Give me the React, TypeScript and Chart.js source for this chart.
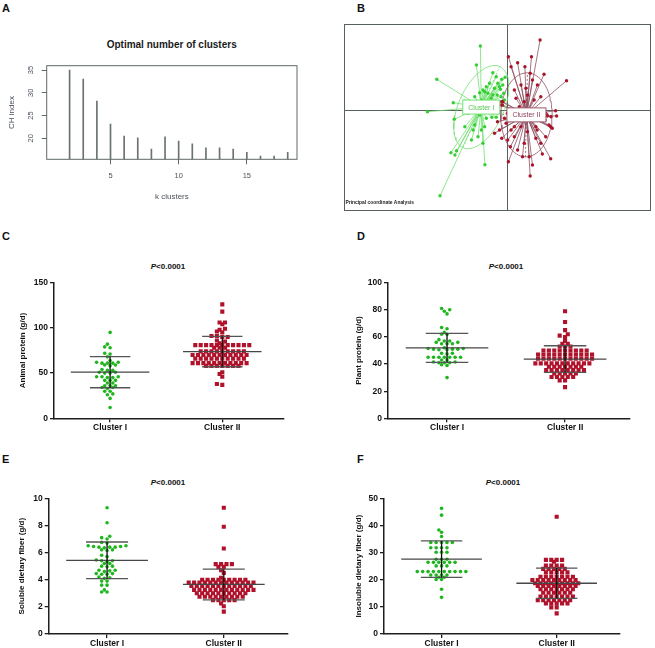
import React, { useEffect, useRef } from 'react';
import { Chart, registerables } from 'chart.js';
Chart.register(...registerables);

const FONT = '"Liberation Sans", Arial, Helvetica, sans-serif';

// ---------------- Panel A : CH index ----------------
const K_CLUSTERS = [2, 3, 4, 5, 6, 7, 8, 9, 10, 11, 12, 13, 14, 15, 16, 17, 18];
const CH_INDEX = [35.0, 33.0, 28.2, 23.1, 20.5, 20.1, 17.6, 20.3, 19.4, 18.8, 17.9, 17.9, 17.6, 16.9, 16.1, 16.1, 16.9];
const A_X_TICKS = [5, 10, 15];
const A_Y_TICKS = [20, 25, 30, 35];
const A_TITLE = 'Optimal number of clusters';
const A_X_TITLE = 'k clusters';
const A_Y_TITLE = 'CH index';

// ---------------- Panel B : PCoA ----------------
const PCOA_I_X = [-0.273, -0.713, -0.807, -0.680, -0.570, -0.530, -0.513, -0.227, -0.547, -0.537, -0.157, -0.113, -0.177, -0.313, -0.147, -0.057, -0.023, -0.097, -0.130, -0.070, -0.037, -0.247, -0.280, -0.230, -0.197, -0.080, -0.280, -0.330, -0.230, -0.263, -0.347, -0.297, -0.247, -0.363, -0.397, -0.213, -0.330, -0.163, -0.297, -0.030, -0.430, -0.263, -0.113, -0.080, -0.047, -0.180, -0.147, -0.103, -0.063, -0.213];
const PCOA_I_Y = [0.640, 0.307, -0.017, -0.857, -0.427, -0.450, -0.407, -0.547, 0.073, -0.093, -0.073, -0.073, -0.017, 0.450, 0.373, 0.307, 0.327, 0.267, 0.217, 0.207, 0.167, 0.200, 0.173, 0.183, 0.167, 0.083, -0.050, -0.150, -0.167, -0.200, -0.200, -0.267, -0.333, -0.300, -0.033, -0.083, 0.133, 0.117, 0.033, 0.100, -0.167, 0.100, 0.333, 0.233, 0.250, 0.267, 0.150, 0.150, 0.133, 0.233];
const PCOA_II_X = [0.330, 0.243, 0.103, 0.010, 0.037, 0.177, 0.230, 0.370, 0.597, 0.303, 0.137, 0.070, 0.203, 0.270, -0.047, 0.487, 0.497, 0.403, 0.437, 0.453, 0.337, 0.070, 0.037, -0.130, -0.057, 0.003, 0.070, 0.030, 0.103, 0.170, 0.220, 0.010, 0.253, 0.230, 0.337, 0.353, 0.437, 0.387, 0.137, 0.120, 0.170, 0.237, 0.070, 0.287, 0.203, 0.137, -0.013, 0.087, 0.187, 0.253, 0.337, -0.080, 0.153, 0.287, 0.387, 0.103, 0.020, 0.237, -0.050, 0.000, 0.350, 0.400, -0.080, 0.300, 0.420, -0.030, 0.440, -0.100, 0.380, -0.060];
const PCOA_II_Y = [0.700, 0.533, 0.473, 0.533, 0.433, 0.433, 0.367, 0.357, 0.293, 0.250, 0.250, 0.200, 0.150, 0.100, 0.083, -0.007, -0.060, -0.060, -0.167, -0.183, -0.067, -0.167, -0.200, -0.233, -0.283, -0.300, -0.267, -0.367, -0.400, -0.333, -0.467, -0.517, -0.550, -0.660, -0.333, -0.440, -0.487, -0.267, -0.067, 0.033, 0.083, 0.000, 0.000, -0.167, -0.217, -0.167, -0.133, 0.117, 0.217, 0.300, 0.133, -0.200, -0.467, -0.283, -0.033, -0.100, -0.067, -0.100, 0.050, -0.033, -0.017, -0.050, 0.050, -0.200, -0.150, -0.083, -0.067, -0.117, -0.100, 0.083];
const PCOA_SUBTITLE = 'Principal coordinate Analysis';

// ---------------- Panels C-F : dot plots ----------------
const CATEGORIES = ['Cluster I', 'Cluster II'];
const P_LABEL = '<0.0001';

const ANIMAL_I = [95, 82, 79, 78, 72, 71, 68, 64, 62, 62, 61, 61, 61, 59, 59, 58, 54, 53, 53, 51, 51, 50, 50, 46, 46, 46, 45, 45, 42, 42, 42, 39, 39, 36, 36, 36, 34, 34, 33, 30, 30, 27, 26, 22, 12];
const ANIMAL_II = [126, 118, 106, 106, 104, 99, 98, 96, 95, 91, 91, 90, 90, 86, 85, 83, 81, 81, 81, 81, 81, 81, 81, 81, 81, 81, 81, 78, 78, 78, 74, 74, 74, 74, 74, 74, 74, 74, 74, 70, 70, 70, 70, 70, 70, 70, 70, 70, 70, 70, 66, 66, 66, 66, 66, 66, 66, 66, 66, 66, 61, 61, 61, 61, 61, 61, 61, 61, 61, 61, 61, 58, 58, 58, 58, 58, 58, 58, 51, 49, 46, 38, 37];
const ANIMAL_MEAN = [51.0, 73.8];
const ANIMAL_SD = [17.2, 16.8];

const PLANT_I = [81, 80, 79, 77, 67, 66, 63.5, 62, 62, 58, 57, 57, 56, 56, 55, 55, 55, 52, 51.5, 51.5, 51, 51, 51, 50.5, 50.5, 48, 48, 47.5, 45, 45, 45, 45, 45, 45, 45, 43, 43, 41.5, 41.5, 41, 41, 41, 39.5, 39, 30];
const PLANT_II = [79, 71, 65, 62, 61, 60, 57, 55, 55, 53, 53, 53, 50, 50, 50, 50, 50, 50, 50, 50, 50, 47, 47, 47, 47, 47, 47, 47, 47, 47, 47, 47, 44, 44, 44, 44, 44, 44, 44, 44, 44, 44, 44, 40.5, 40.5, 40.5, 40.5, 40.5, 40.5, 40.5, 40.5, 40.5, 40.5, 40.5, 38, 38, 38, 38, 38, 38, 38, 35.5, 35.5, 35.5, 35.5, 35.5, 35.5, 35.5, 35.5, 33, 33, 33, 33, 33, 30.5, 30.5, 30.5, 30.5, 30.5, 28, 28, 23];
const PLANT_MEAN = [52.0, 43.7];
const PLANT_SD = [10.7, 9.8];

const SOLUBLE_I = [9.3, 8.2, 7.2, 7.1, 7.0, 6.75, 6.7, 6.5, 6.5, 6.45, 6.45, 6.4, 6.4, 6.4, 6.35, 6.2, 6.2, 6.15, 5.8, 5.7, 5.45, 5.4, 5.4, 5.35, 5.2, 5.2, 5.0, 5.0, 4.95, 4.7, 4.7, 4.65, 4.6, 4.45, 4.45, 4.4, 4.4, 4.2, 4.15, 4.1, 3.9, 3.9, 3.6, 3.6, 3.25, 3.1, 3.1];
const SOLUBLE_II = [9.3, 7.9, 6.3, 5.15, 5.15, 5.15, 5.15, 4.95, 4.95, 4.7, 4.5, 4.15, 4.0, 4.0, 4.0, 4.0, 4.0, 4.0, 4.0, 4.0, 4.0, 3.8, 3.8, 3.8, 3.8, 3.8, 3.8, 3.8, 3.8, 3.8, 3.8, 3.8, 3.8, 3.8, 3.55, 3.55, 3.55, 3.55, 3.55, 3.55, 3.55, 3.55, 3.55, 3.55, 3.55, 3.55, 3.25, 3.25, 3.25, 3.25, 3.25, 3.25, 3.25, 3.25, 3.25, 3.25, 3.25, 3.25, 3.0, 3.0, 3.0, 3.0, 3.0, 3.0, 3.0, 3.0, 3.0, 3.0, 2.75, 2.75, 2.75, 2.75, 2.75, 2.75, 2.75, 2.75, 2.75, 2.5, 2.5, 2.5, 2.5, 2.5, 2.25, 2.05, 1.65];
const SOLUBLE_MEAN = [5.43, 3.65];
const SOLUBLE_SD = [1.35, 1.13];

const INSOLUBLE_I = [46.3, 43.8, 38.3, 37.5, 35.9, 33.7, 33.7, 33.7, 33.7, 33.7, 31.8, 31.8, 31.8, 31.8, 30.1, 30.1, 30.1, 27.5, 27.5, 27.5, 26.4, 26.4, 26.4, 26.4, 26.4, 26.4, 25.1, 25.1, 25.1, 23.0, 23.0, 23.0, 23.0, 23.0, 23.0, 23.0, 23.0, 23.0, 23.0, 21.7, 21.7, 21.7, 21.7, 20.9, 20.9, 20.1, 20.1, 16.5, 13.5];
const INSOLUBLE_II = [43.2, 27.3, 27.3, 27.3, 27.3, 26.6, 25.2, 25.2, 25.2, 25.2, 24.0, 24.0, 24.0, 24.0, 24.0, 22.7, 22.7, 22.7, 22.7, 22.7, 21.1, 21.1, 21.1, 21.1, 21.1, 21.1, 21.1, 19.9, 19.9, 19.9, 19.9, 19.9, 19.9, 19.9, 19.9, 19.9, 18.7, 18.7, 18.7, 18.7, 18.7, 18.7, 18.7, 18.7, 18.7, 17.7, 17.7, 17.7, 17.7, 17.7, 17.7, 17.7, 17.7, 16.5, 16.5, 16.5, 16.5, 16.5, 16.5, 16.5, 15.2, 15.2, 15.2, 15.2, 15.2, 15.2, 13.8, 13.8, 13.8, 13.8, 13.8, 13.8, 13.8, 12.5, 12.5, 12.5, 12.5, 12.5, 12.5, 12.5, 11.3, 11.3, 11.3, 11.3, 11.3, 9.8, 9.8, 7.6];
const INSOLUBLE_MEAN = [27.6, 18.7];
const INSOLUBLE_SD = [6.7, 5.6];

// ---------------- helpers ----------------
type Box = { left: number; top: number; width: number; height: number };
type Area = { left: number; right: number; top: number; bottom: number };

const avg = (a: number[]) => a.reduce((s, v) => s + v, 0) / a.length;

// GraphPad-like scatter layout: same row -> full pitch, neighbouring rows -> half pitch offset
function swarm(values: number[], center: number, pxPerX: number, pxPerY: number, pitch: number, rowTol: number, nearRow: number) {
  const order = values.map((_, i) => i).sort((a, b) => values[a] - values[b]);
  const placed: { x: number; y: number }[] = [];
  const out: { x: number; y: number }[] = new Array(values.length);
  const need = (dy: number) => (Math.abs(dy) < rowTol ? pitch : pitch / 2);
  for (const i of order) {
    const yp = values[i] * pxPerY;
    const near = placed.filter((p) => Math.abs(p.y - yp) < nearRow);
    const cands = [0];
    for (const p of near) {
      const n = need(p.y - yp);
      cands.push(p.x + n, p.x - n);
    }
    cands.sort((a, b) => Math.abs(a) - Math.abs(b) || a - b);
    let xp = 0;
    for (const c of cands) {
      if (near.every((p) => Math.abs(p.x - c) >= need(p.y - yp) - 1e-6)) {
        xp = c;
        break;
      }
    }
    placed.push({ x: xp, y: yp });
    out[i] = { x: center + xp / pxPerX, y: values[i] };
  }
  return out;
}

function ellipse(xs: number[], ys: number[], k: number) {
  const mx = avg(xs), my = avg(ys);
  let sxx = 0, syy = 0, sxy = 0;
  xs.forEach((x, i) => {
    const dx = x - mx, dy = ys[i] - my;
    sxx += dx * dx; syy += dy * dy; sxy += dx * dy;
  });
  sxx /= xs.length; syy /= xs.length; sxy /= xs.length;
  const tr = (sxx + syy) / 2;
  const dd = Math.sqrt(((sxx - syy) / 2) ** 2 + sxy ** 2);
  const a = k * Math.sqrt(tr + dd), b = k * Math.sqrt(Math.max(tr - dd, 0));
  const th = 0.5 * Math.atan2(2 * sxy, sxx - syy);
  const c = Math.cos(th), s = Math.sin(th);
  const curve = [] as { x: number; y: number }[];
  for (let t = 0; t <= 72; t++) {
    const ang = (t / 72) * Math.PI * 2;
    const ex = a * Math.cos(ang), ey = b * Math.sin(ang);
    curve.push({ x: mx + ex * c - ey * s, y: my + ex * s + ey * c });
  }
  const axes = [
    { x: mx - a * c, y: my - a * s }, { x: mx + a * c, y: my + a * s }, { x: NaN, y: NaN },
    { x: mx + b * s, y: my - b * c }, { x: mx - b * s, y: my + b * c },
  ];
  return { curve, axes, mx, my };
}

function ChartBox({ box, make }: { box: Box; make: () => any }) {
  const ref = useRef<HTMLCanvasElement>(null);
  useEffect(() => {
    const chart = new Chart(ref.current as HTMLCanvasElement, make());
    return () => chart.destroy();
  }, []);
  return (
    <canvas
      ref={ref}
      width={box.width}
      height={box.height}
      style={{ position: 'absolute', left: box.left, top: box.top, width: box.width, height: box.height }}
    />
  );
}

// ---------------- Panel A ----------------
const A_BOX: Box = { left: 0, top: 40, width: 320, height: 175 };
const A_AREA: Area = { left: 46.7, right: 297, top: 65.7, bottom: 159.3 };
const A_GRAY = '#5f6868';
const A_TEXT = '#4a525c';

const frameA = {
  id: 'frameA',
  afterDraw(chart: any) {
    const { ctx, chartArea: a } = chart;
    ctx.save();
    ctx.strokeStyle = A_GRAY;
    ctx.lineWidth = 1;
    ctx.strokeRect(a.left, a.top, a.right - a.left, a.bottom - a.top);
    ctx.restore();
  },
};

function panelA() {
  const yMin = 15.38;
  return {
    type: 'bar',
    data: {
      datasets: [
        {
          data: K_CLUSTERS.map((k, i) => ({ x: k, y: CH_INDEX[i] })),
          backgroundColor: '#6a7272',
          barThickness: 1,
          base: yMin,
        },
      ],
    },
    options: {
      animation: false,
      responsive: false,
      events: [],
      layout: {
        padding: {
          left: 0,
          top: A_AREA.top - A_BOX.top,
          right: A_BOX.left + A_BOX.width - A_AREA.right,
          bottom: 0,
        },
      },
      plugins: { legend: { display: false }, tooltip: { enabled: false } },
      scales: {
        x: {
          type: 'linear',
          min: 0.32,
          max: 18.68,
          offset: false,
          afterBuildTicks: (s: any) => { s.ticks = A_X_TICKS.map((v) => ({ value: v })); },
          afterFit: (s: any) => { s.height = A_BOX.top + A_BOX.height - A_AREA.bottom; },
          grid: { offset: false, drawOnChartArea: false, drawTicks: true, tickLength: 5, color: A_GRAY },
          border: { display: false },
          ticks: { font: { family: FONT, size: 7.5 }, color: A_TEXT, padding: 7.5, maxRotation: 0, autoSkip: false },
          title: { display: true, text: A_X_TITLE, font: { family: FONT, size: 8 }, color: A_TEXT, padding: { top: 0, bottom: 13.5 } },
        },
        y: {
          min: yMin,
          max: 35.95,
          afterBuildTicks: (s: any) => { s.ticks = A_Y_TICKS.map((v) => ({ value: v })); },
          afterFit: (s: any) => { s.width = A_AREA.left - A_BOX.left; },
          grid: { drawOnChartArea: false, drawTicks: true, tickLength: 5, color: A_GRAY },
          border: { display: false },
          ticks: { font: { family: FONT, size: 7.5 }, color: A_TEXT, padding: 6.5, minRotation: 90, maxRotation: 90, crossAlign: 'center' },
          title: { display: true, text: A_Y_TITLE, font: { family: FONT, size: 8 }, color: A_TEXT, padding: { top: 6.9, bottom: 0 } },
        },
      },
    },
    plugins: [frameA],
  };
}

// ---------------- Panel B ----------------
const B_BOX: Box = { left: 340, top: 20, width: 315, height: 195 };
const B_AREA: Area = { left: 343, right: 653, top: 24, bottom: 211 };
const GREEN_PT = '#35cf35';
const GREEN_LN = '#74e074';
const RED_PT = '#a8142a';
const RED_LN = '#8e5262';

function panelB() {
  const eI = ellipse(PCOA_I_X, PCOA_I_Y, 1.5);
  const eII = ellipse(PCOA_II_X, PCOA_II_Y, 1.5);
  const stars = (xs: number[], ys: number[], cx: number, cy: number) =>
    xs.flatMap((x, i) => [{ x, y: ys[i] }, { x: cx, y: cy }, { x: NaN, y: NaN }]);
  const lineDs = (data: any[], color: string, dash: number[] = []) => ({
    data, showLine: true, borderColor: color, borderWidth: 0.8, pointRadius: 0, borderDash: dash, spanGaps: false,
  });
  const decor = {
    id: 'pcoaDecor',
    beforeDatasetsDraw(chart: any) {
      const { ctx, chartArea: a, scales } = chart;
      const x0 = Math.round(scales.x.getPixelForValue(0)) + 0.5;
      const y0 = Math.round(scales.y.getPixelForValue(0)) + 0.5;
      ctx.save();
      ctx.strokeStyle = '#56605f';
      ctx.lineWidth = 1;
      ctx.beginPath();
      ctx.moveTo(a.left, y0); ctx.lineTo(a.right, y0);
      ctx.moveTo(x0, a.top); ctx.lineTo(x0, a.bottom);
      ctx.stroke();
      ctx.strokeRect(a.left + 0.5, a.top + 0.5, a.right - a.left - 1, a.bottom - a.top - 1);
      ctx.restore();
    },
    afterDatasetsDraw(chart: any) {
      const { ctx, chartArea: a, scales } = chart;
      const labels = [
        { text: CATEGORIES[0], cx: eI.mx, cy: eI.my, color: '#52c852', border: '#74e074' },
        { text: CATEGORIES[1], cx: eII.mx, cy: eII.my, color: '#8e3c58', border: '#9a5a6a' },
      ];
      ctx.save();
      ctx.font = `7px ${FONT}`;
      ctx.textAlign = 'center';
      ctx.textBaseline = 'middle';
      for (const l of labels) {
        const px = scales.x.getPixelForValue(l.cx);
        const py = scales.y.getPixelForValue(l.cy);
        const w = ctx.measureText(l.text).width + 11;
        const h = 14;
        ctx.fillStyle = '#fff';
        ctx.fillRect(px - w / 2, py - h / 2, w, h);
        ctx.strokeStyle = l.border;
        ctx.lineWidth = 1;
        ctx.strokeRect(px - w / 2, py - h / 2, w, h);
        ctx.fillStyle = l.color;
        ctx.fillText(l.text, px, py + 0.5);
      }
      ctx.font = `bold 4.9px ${FONT}`;
      ctx.textAlign = 'left';
      ctx.fillStyle = '#222';
      ctx.fillText(PCOA_SUBTITLE, a.left + 1.5, a.bottom - 8);
      ctx.restore();
    },
  };
  return {
    type: 'scatter',
    data: {
      datasets: [
        { data: PCOA_II_X.map((x, i) => ({ x, y: PCOA_II_Y[i] })), pointRadius: 1.7, backgroundColor: RED_PT, borderWidth: 0 },
        { data: PCOA_I_X.map((x, i) => ({ x, y: PCOA_I_Y[i] })), pointRadius: 1.7, backgroundColor: GREEN_PT, borderWidth: 0 },
        lineDs(eII.curve, RED_LN),
        lineDs(eI.curve, GREEN_LN),
        lineDs(eII.axes, RED_LN, [2, 2]),
        lineDs(eI.axes, GREEN_LN, [2, 2]),
        lineDs(stars(PCOA_II_X, PCOA_II_Y, eII.mx, eII.my), RED_LN),
        lineDs(stars(PCOA_I_X, PCOA_I_Y, eI.mx, eI.my), GREEN_LN),
      ],
    },
    options: {
      animation: false,
      responsive: false,
      events: [],
      layout: {
        padding: {
          left: B_AREA.left - B_BOX.left,
          top: B_AREA.top - B_BOX.top,
          right: B_BOX.left + B_BOX.width - B_AREA.right,
          bottom: B_BOX.top + B_BOX.height - B_AREA.bottom,
        },
      },
      plugins: { legend: { display: false }, tooltip: { enabled: false } },
      scales: {
        x: { type: 'linear', min: -1.65, max: 1.45, display: false },
        y: { type: 'linear', min: -1.01, max: 0.86, display: false },
      },
    },
    plugins: [decor],
  };
}

// ---------------- Panels C-F ----------------
type DotSpec = {
  box: Box;
  area: Area;
  groups: [number[], number[]];
  mean: number[];
  sd: number[];
  yMax: number;
  yStep: number;
  yTitle: string;
  titleX: number;
};

const DOT_GREEN = '#1fb51f';
const DOT_RED = '#b0122b';
const AXIS_DARK = '#1e1e1e';

function dotPanel(spec: DotSpec) {
  return () => {
    const { box, area, groups, mean, sd, yMax, yStep, yTitle, titleX } = spec;
    const xMin = -0.5, xMax = 1.55;
    const pxPerX = (area.right - area.left) / (xMax - xMin);
    const pxPerY = (area.bottom - area.top) / yMax;
    const ptsI = swarm(groups[0], 0, pxPerX, pxPerY, 5.4, 1.6, 4.0);
    const ptsII = swarm(groups[1], 1, pxPerX, pxPerY, 5.4, 1.6, 4.0);
    const seg = (x1: number, y1: number, x2: number, y2: number, color: string) => ({
      data: [{ x: x1, y: y1 }, { x: x2, y: y2 }],
      showLine: true, borderColor: color, borderWidth: 1.3, pointRadius: 0,
    });
    const lines: any[] = [];
    [0, 1].forEach((i) => {
      const m = mean[i], s = sd[i];
      lines.push(seg(i, m - s, i, m + s, '#0d0d0d'));
      lines.push(seg(i - 0.35, m, i + 0.35, m, '#474747'));
      lines.push(seg(i - 0.18, m + s, i + 0.18, m + s, '#555'));
      lines.push(seg(i - 0.18, m - s, i + 0.18, m - s, '#555'));
    });
    return {
      type: 'scatter',
      data: {
        datasets: [
          ...lines,
          { data: ptsII, pointStyle: 'rect', pointRadius: 2.9, backgroundColor: DOT_RED, borderWidth: 0 },
          { data: ptsI, pointStyle: 'circle', pointRadius: 1.8, backgroundColor: DOT_GREEN, borderWidth: 0 },
        ],
      },
      options: {
        animation: false,
        responsive: false,
        events: [],
        layout: {
          padding: { left: 0, top: area.top - box.top, right: box.left + box.width - area.right, bottom: 0 },
        },
        plugins: { legend: { display: false }, tooltip: { enabled: false } },
        scales: {
          x: {
            type: 'linear',
            min: xMin,
            max: xMax,
            afterBuildTicks: (s: any) => { s.ticks = [0, 1].map((v) => ({ value: v })); },
            afterFit: (s: any) => { s.height = box.top + box.height - area.bottom; },
            grid: { drawOnChartArea: false, drawTicks: true, tickLength: 4, color: AXIS_DARK, lineWidth: 1.3 },
            border: { color: AXIS_DARK, width: 1.5 },
            ticks: {
              callback: (v: number) => CATEGORIES[v] ?? '',
              font: { family: FONT, size: 8.5, weight: 'bold' }, color: '#111', padding: 0.4, maxRotation: 0, autoSkip: false,
            },
          },
          y: {
            min: 0,
            max: yMax,
            afterFit: (s: any) => { s.width = area.left - box.left; },
            grid: { drawOnChartArea: false, drawTicks: true, tickLength: 4, color: AXIS_DARK, lineWidth: 1.3 },
            border: { color: AXIS_DARK, width: 1.5 },
            ticks: { stepSize: yStep, font: { family: FONT, size: 8.5, weight: 'bold' }, color: '#111', padding: 2 },
            title: {
              display: true, text: yTitle, font: { family: FONT, size: 8, weight: 'bold' }, color: '#111',
              padding: { top: titleX - box.left - 4.8, bottom: 0 },
            },
          },
        },
      },
    };
  };
}

const C_SPEC: DotSpec = {
  box: { left: 0, top: 240, width: 300, height: 200 },
  area: { left: 54, right: 284, top: 282.7, bottom: 418.3 },
  groups: [ANIMAL_I, ANIMAL_II], mean: ANIMAL_MEAN, sd: ANIMAL_SD,
  yMax: 150, yStep: 50, yTitle: 'Animal protein (g/d)', titleX: 22.7,
};
const D_SPEC: DotSpec = {
  box: { left: 330, top: 240, width: 325, height: 200 },
  area: { left: 388, right: 630, top: 282.7, bottom: 418.3 },
  groups: [PLANT_I, PLANT_II], mean: PLANT_MEAN, sd: PLANT_SD,
  yMax: 100, yStep: 20, yTitle: 'Plant protein (g/d)', titleX: 358.3,
};
const E_SPEC: DotSpec = {
  box: { left: 0, top: 460, width: 300, height: 188 },
  area: { left: 48.7, right: 288, top: 498.3, bottom: 634 },
  groups: [SOLUBLE_I, SOLUBLE_II], mean: SOLUBLE_MEAN, sd: SOLUBLE_SD,
  yMax: 10, yStep: 2, yTitle: 'Soluble dietary fiber (g/d)', titleX: 21.7,
};
const F_SPEC: DotSpec = {
  box: { left: 330, top: 460, width: 325, height: 188 },
  area: { left: 384, right: 620, top: 498.3, bottom: 634 },
  groups: [INSOLUBLE_I, INSOLUBLE_II], mean: INSOLUBLE_MEAN, sd: INSOLUBLE_SD,
  yMax: 50, yStep: 10, yTitle: 'Insoluble dietary fiber (g/d)', titleX: 358.3,
};

const LETTERS = [
  { t: 'A', left: 2, top: 2 },
  { t: 'B', left: 357, top: 2 },
  { t: 'C', left: 2, top: 230 },
  { t: 'D', left: 357, top: 230 },
  { t: 'E', left: 2, top: 453 },
  { t: 'F', left: 357, top: 453 },
];
const P_TITLES = [
  { cx: 168, cy: 267 },
  { cx: 506, cy: 267 },
  { cx: 168, cy: 483 },
  { cx: 503, cy: 483 },
];

export default function App() {
  useEffect(() => {
    document.body.style.margin = '0';
  }, []);
  return (
    <div style={{ position: 'fixed', left: 0, top: 0, width: 655, height: 648, background: '#fff', overflow: 'hidden', fontFamily: FONT }}>
      {LETTERS.map((l) => (
        <div key={l.t} style={{ position: 'absolute', left: l.left, top: l.top, font: `bold 11px ${FONT}`, color: '#111', lineHeight: '13px' }}>
          {l.t}
        </div>
      ))}
      <div style={{ position: 'absolute', left: 71.7, width: 200, top: 39, textAlign: 'center', font: `bold 10px ${FONT}`, lineHeight: '12px', color: '#1a1a1a' }}>
        {A_TITLE}
      </div>
      {P_TITLES.map((p, i) => (
        <div key={i} style={{ position: 'absolute', left: p.cx - 50, width: 100, top: p.cy - 5, textAlign: 'center', font: `bold 8px ${FONT}`, lineHeight: '10px', color: '#111' }}>
          <i>P</i>{P_LABEL}
        </div>
      ))}
      <ChartBox box={A_BOX} make={panelA} />
      <ChartBox box={B_BOX} make={panelB} />
      <ChartBox box={C_SPEC.box} make={dotPanel(C_SPEC)} />
      <ChartBox box={D_SPEC.box} make={dotPanel(D_SPEC)} />
      <ChartBox box={E_SPEC.box} make={dotPanel(E_SPEC)} />
      <ChartBox box={F_SPEC.box} make={dotPanel(F_SPEC)} />
    </div>
  );
}
